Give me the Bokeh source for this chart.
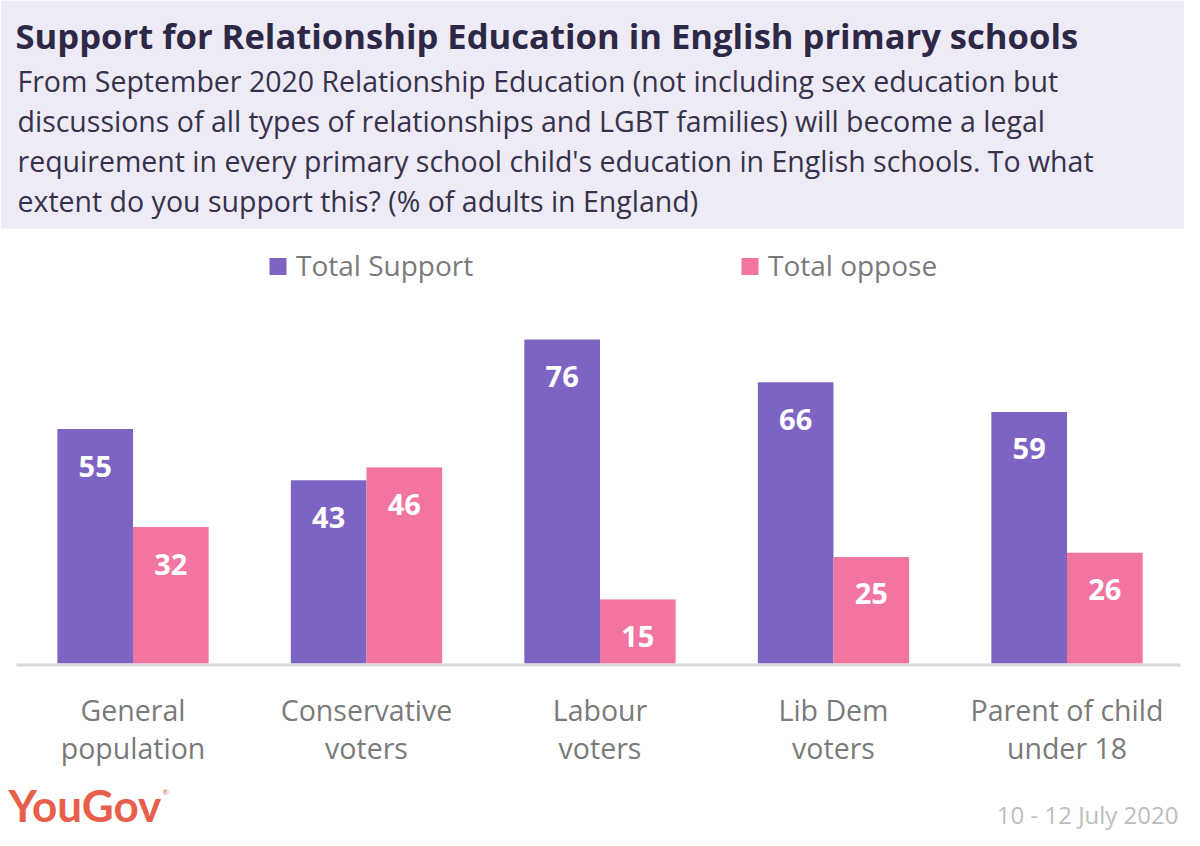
from bokeh.plotting import figure
from bokeh.models import Label, BoxAnnotation, ColumnDataSource
from bokeh.embed import file_html
from bokeh.resources import INLINE
from bokeh.core.properties import value

# ---- data ----
categories = ["General\npopulation", "Conservative\nvoters", "Labour\nvoters", "Lib Dem\nvoters", "Parent of child\nunder 18"]
support = [55, 43, 76, 66, 59]
oppose = [32, 46, 15, 25, 26]
series_names = ["Total Support", "Total oppose"]
title_text = "Support for Relationship Education in English primary schools"
subtitle_lines = [
    "From September 2020 Relationship Education (not including sex education but",
    "discussions of all types of relationships and LGBT families) will become a legal",
    "requirement in every primary school child's education in English schools. To what",
    "extent do you support this? (% of adults in England)",
]
source_text = "YouGov"
date_text = "10 - 12 July 2020"

# ---- styling / geometry ----
W, H = 1184, 830
PURPLE = "#7E64C2"
PINK = "#F274A0"
FONT = "Open Sans"
K = 324 / 76.0          # px per percentage point
BASE_PY = 663           # baseline pixel row (from top)
GROUP_PX = 233.5
FIRST_PX = 132.5

def px2x(px):
    return (px - FIRST_PX) / GROUP_PX

def py2y(py):
    return (BASE_PY - py) / K

p = figure(width=W, height=H, output_backend="svg", toolbar_location=None,
           x_range=(px2x(0), px2x(W)), y_range=(py2y(H), py2y(0)),
           min_border=0, min_border_left=0, min_border_right=0,
           min_border_top=0, min_border_bottom=0)
p.axis.visible = False
p.grid.visible = False
p.outline_line_color = None
p.background_fill_color = "white"
p.border_fill_color = "white"

# header band
p.add_layout(BoxAnnotation(bottom=py2y(228), fill_color="#EEEBF6", fill_alpha=1.0,
                           line_color=None, level="underlay"))

# title and subtitle
p.add_layout(Label(x=px2x(15), y=py2y(35), text=title_text, text_font=FONT,
                   text_font_style="bold", text_font_size="34.6px", text_color="#2D2846",
                   text_baseline="middle", text_align="left"))
for i, line in enumerate(subtitle_lines):
    p.add_layout(Label(x=px2x(17), y=py2y(80 + 40 * i), text=line, text_font=FONT,
                       text_font_size="28.5px", text_color="#36324A",
                       text_baseline="middle", text_align="left"))

# bars
n = len(categories)
idx = list(range(n))
dodge = 0.162
bw = 0.324
src = ColumnDataSource(dict(
    xs=[i - dodge for i in idx], xo=[i + dodge for i in idx],
    s=support, o=oppose,
    sl=[str(v) for v in support], ol=[str(v) for v in oppose],
    sy=[v - 37 / K for v in support], oy=[v - 37 / K for v in oppose],
))
p.vbar(x="xs", top="s", bottom=0, width=bw, source=src, fill_color=PURPLE, line_color=None)
p.vbar(x="xo", top="o", bottom=0, width=bw, source=src, fill_color=PINK, line_color=None)

# baseline
p.segment(x0=[px2x(16)], y0=[py2y(BASE_PY + 1.5)], x1=[px2x(1180)], y1=[py2y(BASE_PY + 1.5)],
          line_color="#D9D9DE", line_width=3)

# value labels
for xcol, ycol, tcol in (("xs", "sy", "sl"), ("xo", "oy", "ol")):
    p.text(x=xcol, y=ycol, text=tcol, source=src, text_color="white",
           text_font=value(FONT), text_font_style="bold", text_font_size="29px",
           text_align="center", text_baseline="middle")

# category labels
line1 = [c.split("\n")[0] for c in categories]
line2 = [c.split("\n")[1] for c in categories]
p.text(x=idx, y=[py2y(709)] * n, text=line1, text_color="#7A7A7A",
       text_font=value(FONT), text_font_size="28.5px", text_align="center", text_baseline="middle")
p.text(x=idx, y=[py2y(747)] * n, text=line2, text_color="#7A7A7A",
       text_font=value(FONT), text_font_size="28.5px", text_align="center", text_baseline="middle")

# legend (manual)
leg_sq_px = [277.5, 749.5]
for name, col, sqx in zip(series_names, [PURPLE, PINK], leg_sq_px):
    p.scatter(x=[px2x(sqx)], y=[py2y(266)], marker="square", size=17,
              fill_color=col, line_color=None)
    p.add_layout(Label(x=px2x(sqx + 18), y=py2y(264), text=name, text_font=FONT,
                       text_font_size="28px", text_color="#7A7A7A",
                       text_baseline="middle", text_align="left"))

# footer
p.add_layout(Label(x=px2x(8), y=py2y(804), text=source_text, text_font="Lato",
                   text_font_style="bold", text_font_size="44px", text_color="#E8604C",
                   text_baseline="middle", text_align="left"))
p.add_layout(Label(x=px2x(165), y=py2y(791), text="®", text_font="Lato",
                   text_font_size="8px", text_color="#E8604C",
                   text_baseline="middle", text_align="center"))
p.add_layout(Label(x=px2x(1178), y=py2y(814), text=date_text, text_font=FONT,
                   text_font_size="24px", text_color="#BDBDBD",
                   text_baseline="middle", text_align="right"))

open("out.html", "w").write(file_html(p, INLINE))
